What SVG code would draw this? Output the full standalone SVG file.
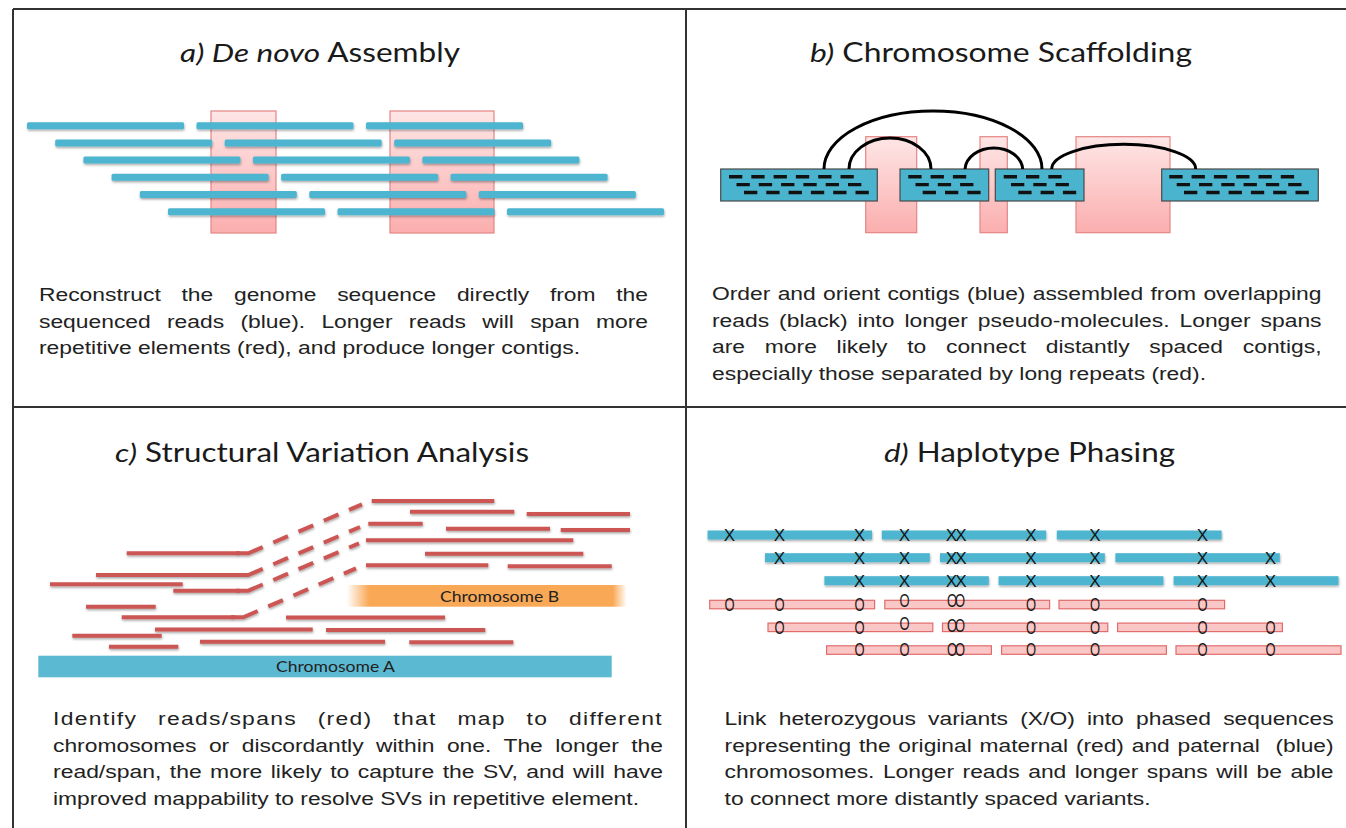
<svg xmlns="http://www.w3.org/2000/svg" width="1346" height="828" viewBox="0 0 1346 828">
<defs>
<style>
.title{font-family:Lato,"Open Sans",sans-serif;font-size:26px;fill:#1a1a1a}
.it{font-style:italic}
.body{font-family:"Liberation Sans",Arial,sans-serif;font-size:17.5px;fill:#222}
.border{stroke:#333;stroke-width:2;fill:none}
.bar{fill:#4db5cf}
.rep{fill:url(#repGrad);stroke:#e58585;stroke-width:1.2}
.contig{fill:#4ab3cd;stroke:#4a4a4a;stroke-width:1.2}
.rd{stroke:#111;stroke-width:3.4;stroke-dasharray:13.3 9}
.arc{fill:none;stroke:#000;stroke-width:3}
.rr{stroke:#cb5753;stroke-width:4}
.dd{stroke:#cb5753;stroke-width:4;fill:none;stroke-dasharray:28 11.5 16 11.5 16 11.5 16 11.5 16 40}
.pb{fill:#4db5cf}
.pp{fill:#fbc6c6;stroke:#e26c6c;stroke-width:1.2}
.mx{font-family:"Liberation Sans",Arial,sans-serif;font-size:17px;fill:#151515;text-anchor:middle}
.mo{font-family:"Liberation Sans",Arial,sans-serif;font-size:18px;fill:#151515;text-anchor:middle}
.chr{font-family:Lato,"Open Sans",sans-serif;font-size:15px;fill:#222}
</style>
<linearGradient id="repGrad" x1="0" y1="0" x2="0" y2="1"><stop offset="0" stop-color="#fee6e6"/><stop offset="1" stop-color="#fbaeae"/></linearGradient>
<linearGradient id="chrBGrad" x1="0" y1="0" x2="1" y2="0"><stop offset="0" stop-color="#f9a856" stop-opacity="0"/><stop offset="0.08" stop-color="#f9a856"/><stop offset="0.95" stop-color="#f9a856"/><stop offset="1" stop-color="#f9a856" stop-opacity="0"/></linearGradient>
<filter id="sh" filterUnits="userSpaceOnUse" x="0" y="0" width="1346" height="828"><feDropShadow dx="0.5" dy="1.5" stdDeviation="1" flood-color="#000" flood-opacity="0.35"/></filter>
<g id="rowA"><rect class="bar" x="0" y="-3.5" width="157" height="7" rx="1.5"/><rect class="bar" x="169.5" y="-3.5" width="157" height="7" rx="1.5"/><rect class="bar" x="339" y="-3.5" width="157" height="7" rx="1.5"/></g>
</defs>
<rect width="1346" height="828" fill="#fff"/>

<g id="borders">
<path class="border" d="M13 9 H1346 M13 9 V828 M686 9 V828 M13 407 H1346"/>
</g>

<!-- Panel a -->
<g id="panel-a">
<text class="title" x="180" y="62" textLength="280" lengthAdjust="spacingAndGlyphs"><tspan class="it">a) De novo</tspan> Assembly</text>
<g id="a-repeats">
<rect class="rep" x="211" y="111" width="65" height="122"/>
<rect class="rep" x="390" y="111" width="104" height="122"/>
</g>
<g id="a-reads" filter="url(#sh)">
<use href="#rowA" transform="translate(27,125.7)"/>
<use href="#rowA" transform="translate(55.2,142.9)"/>
<use href="#rowA" transform="translate(83.4,160.1)"/>
<use href="#rowA" transform="translate(111.6,177.3)"/>
<use href="#rowA" transform="translate(139.8,194.5)"/>
<use href="#rowA" transform="translate(168,211.7)"/>
</g>
<g id="a-text" class="body">
<text x="39" y="301" textLength="609" lengthAdjust="spacingAndGlyphs" word-spacing="11">Reconstruct the genome sequence directly from the</text>
<text x="39" y="327.7" textLength="609" lengthAdjust="spacingAndGlyphs" word-spacing="7.6">sequenced reads (blue). Longer reads will span more</text>
<text x="39" y="354.4" textLength="541" lengthAdjust="spacingAndGlyphs">repetitive elements (red), and produce longer contigs.</text>
</g>
</g>

<!-- Panel b -->
<g id="panel-b">
<text class="title" x="810" y="62" textLength="382" lengthAdjust="spacingAndGlyphs"><tspan class="it">b)</tspan> Chromosome Scaffolding</text>
<g id="b-repeats">
<rect class="rep" x="865.7" y="136.7" width="51" height="96"/>
<rect class="rep" x="980" y="136.7" width="27.3" height="96"/>
<rect class="rep" x="1076" y="136.7" width="94" height="96"/>
</g>
<g id="contig1">
<rect class="contig" x="720.7" y="169" width="156.6" height="32"/>
<line class="rd" x1="729" y1="176.7" x2="853.8" y2="176.7"/>
<line class="rd" x1="736.5" y1="184.6" x2="861.3" y2="184.6"/>
<line class="rd" x1="744" y1="192.5" x2="868.8" y2="192.5"/>
</g>
<g id="contig2">
<rect class="contig" x="900" y="169" width="88.7" height="32"/>
<line class="rd" x1="908.3" y1="176.7" x2="966.2" y2="176.7"/>
<line class="rd" x1="915.5" y1="184.6" x2="973.4" y2="184.6"/>
<line class="rd" x1="922.7" y1="192.5" x2="980.6" y2="192.5"/>
</g>
<g id="contig3">
<rect class="contig" x="995.3" y="169" width="88.7" height="32"/>
<line class="rd" x1="1003.7" y1="176.7" x2="1061.6" y2="176.7"/>
<line class="rd" x1="1011" y1="184.6" x2="1068.9" y2="184.6"/>
<line class="rd" x1="1018.3" y1="192.5" x2="1076.2" y2="192.5"/>
</g>
<g id="contig4">
<rect class="contig" x="1161.7" y="169" width="156.6" height="32"/>
<line class="rd" x1="1169.3" y1="176.7" x2="1294.1" y2="176.7"/>
<line class="rd" x1="1176.7" y1="184.6" x2="1301.5" y2="184.6"/>
<line class="rd" x1="1184" y1="192.5" x2="1308.8" y2="192.5"/>
</g>
<g id="b-text" class="body">
<text x="712" y="300" textLength="609.5" lengthAdjust="spacingAndGlyphs" word-spacing="0.7">Order and orient contigs (blue) assembled from overlapping</text>
<text x="712" y="326.7" textLength="609.5" lengthAdjust="spacingAndGlyphs" word-spacing="2.8">reads (black) into longer pseudo-molecules. Longer spans</text>
<text x="712" y="353.3" textLength="609.5" lengthAdjust="spacingAndGlyphs" word-spacing="10.3">are more likely to connect distantly spaced contigs,</text>
<text x="712" y="380" textLength="494" lengthAdjust="spacingAndGlyphs">especially those separated by long repeats (red).</text>
</g>
</g>

<g id="connectors">
<path class="arc" d="M824 169 A109 58 0 0 1 1042 169"/>
<path class="arc" d="M849 169 A41 31 0 0 1 931 169"/>
<path class="arc" d="M965 169 A28.9 22.3 0 0 1 1022.7 169"/>
<path class="arc" d="M1051.7 169 A72 24.7 0 0 1 1195.7 169"/>
</g>

<!-- Panel c -->
<g id="panel-c">
<text class="title" x="115" y="462" textLength="414" lengthAdjust="spacingAndGlyphs"><tspan class="it">c)</tspan> Structural Variation Analysis</text>
<g id="chromosome-b">
<rect x="346.7" y="585" width="280" height="21.7" fill="url(#chrBGrad)"/>
<text class="chr" x="440" y="601.5" textLength="119" lengthAdjust="spacingAndGlyphs">Chromosome B</text>
</g>
<g id="chromosome-a">
<rect x="38.3" y="655.7" width="573.4" height="21.6" fill="#5cb9d2"/>
<text class="chr" x="276" y="672" textLength="119" lengthAdjust="spacingAndGlyphs">Chromosome A</text>
</g>
<g id="c-reads" filter="url(#sh)">
<line class="rr" x1="371.7" y1="501" x2="494.3" y2="501"/>
<line class="rr" x1="410" y1="511.7" x2="514.3" y2="511.7"/>
<line class="rr" x1="526.7" y1="514" x2="630" y2="514"/>
<line class="rr" x1="368.3" y1="523.7" x2="422.7" y2="523.7"/>
<line class="rr" x1="446" y1="528.7" x2="550" y2="528.7"/>
<line class="rr" x1="560.7" y1="530" x2="630" y2="530"/>
<line class="rr" x1="366" y1="540.3" x2="573.3" y2="540.3"/>
<line class="rr" x1="425" y1="553.7" x2="583.3" y2="553.7"/>
<line class="rr" x1="366" y1="565.3" x2="488.3" y2="565.3"/>
<line class="rr" x1="507.7" y1="566.3" x2="611.7" y2="566.3"/>
<line class="rr" x1="126.7" y1="553.3" x2="240" y2="553.3"/>
<line class="rr" x1="96" y1="575" x2="240" y2="575"/>
<line class="rr" x1="50" y1="584.3" x2="182.7" y2="584.3"/>
<line class="rr" x1="173.3" y1="590.7" x2="240" y2="590.7"/>
<line class="rr" x1="86" y1="606.7" x2="155.7" y2="606.7"/>
<line class="rr" x1="121.7" y1="617.3" x2="235" y2="617.3"/>
<line class="rr" x1="286" y1="617.5" x2="445" y2="617.5"/>
<line class="rr" x1="155" y1="629.5" x2="312.7" y2="629.5"/>
<line class="rr" x1="326" y1="630" x2="485.3" y2="630"/>
<line class="rr" x1="72.3" y1="635.7" x2="161.7" y2="635.7"/>
<line class="rr" x1="200" y1="641.7" x2="385" y2="641.7"/>
<line class="rr" x1="409.3" y1="642.3" x2="513.3" y2="642.3"/>
<line class="rr" x1="109" y1="646.7" x2="178.3" y2="646.7"/>
<path class="dd" d="M236 553.3 L248.3 553.3 L362 504.3"/>
<path class="dd" d="M236 575 L248.3 575 L360 527"/>
<path class="dd" d="M236 590.7 L248.3 590.7 L359 543.3"/>
<path class="dd" d="M231 617.3 L243.3 617.3 L356 568.3"/>
</g>
<g id="c-text" class="body">
<text x="53" y="725" textLength="610" lengthAdjust="spacingAndGlyphs" letter-spacing="1" word-spacing="10">Identify reads/spans (red) that map to different</text>
<text x="53" y="751.5" textLength="610" lengthAdjust="spacingAndGlyphs" word-spacing="4.7">chromosomes or discordantly within one. The longer the</text>
<text x="53" y="778" textLength="610" lengthAdjust="spacingAndGlyphs" word-spacing="1.6">read/span, the more likely to capture the SV, and will have</text>
<text x="53" y="805" textLength="586" lengthAdjust="spacingAndGlyphs">improved mappability to resolve SVs in repetitive element.</text>
</g>
</g>

<!-- Panel d -->
<g id="panel-d">
<text class="title" x="884" y="462" textLength="291" lengthAdjust="spacingAndGlyphs"><tspan class="it">d)</tspan> Haplotype Phasing</text>
<g id="d-paternal" filter="url(#sh)">
<rect class="pb" x="707.6" y="530.5" width="164.4" height="9"/>
<rect class="pb" x="881.8" y="530.5" width="164.4" height="9"/>
<rect class="pb" x="1056.8" y="530.5" width="164.8" height="9"/>
<rect class="pb" x="765" y="553.2" width="164.8" height="9"/>
<rect class="pb" x="940" y="553.2" width="164.8" height="9"/>
<rect class="pb" x="1115.4" y="553.2" width="164.4" height="9"/>
<rect class="pb" x="824.4" y="576.2" width="164.4" height="9"/>
<rect class="pb" x="998.6" y="576.2" width="164.8" height="9"/>
<rect class="pb" x="1173.6" y="576.2" width="164.9" height="9"/>
</g>
<g id="d-maternal">
<rect class="pp" x="709.7" y="600.3" width="164.9" height="8.5"/>
<rect class="pp" x="884.8" y="600.3" width="164.8" height="8.5"/>
<rect class="pp" x="1059" y="600.3" width="165.6" height="8.5"/>
<rect class="pp" x="768" y="623.1" width="164.8" height="8.5"/>
<rect class="pp" x="942.5" y="623.1" width="165.3" height="8.5"/>
<rect class="pp" x="1117.6" y="623.1" width="164.8" height="8.5"/>
<rect class="pp" x="826.6" y="645.8" width="164.8" height="8.5"/>
<rect class="pp" x="1001.6" y="645.8" width="164.8" height="8.5"/>
<rect class="pp" x="1176" y="645.8" width="165" height="8.5"/>
</g>
<g id="d-x-marks" class="mx">
<text x="729.5 779.5 859.5 904.5 951.5 961 1031 1095 1202.5" y="541.1">XXXXXXXXX</text>
<text x="779.5 859.5 904.5 951.5 961 1031 1095 1202.5 1270.5" y="563.8">XXXXXXXXX</text>
<text x="859.5 904.5 951.5 961 1031 1095 1202.5 1270.5" y="586.8">XXXXXXXX</text>
</g>
<g id="d-o-marks" class="mo" transform="scale(0.72,1)">
<text x="1013.2 1082.6 1193.75 1256.25 1322.2 1333.3 1431.9 1520.8 1670.1" y="611 611 611 607.3 607.3 607.3 611 611 611">OOOOOOOOO</text>
<text x="1082.6 1193.75 1256.25 1322.2 1333.3 1431.9 1520.8 1670.1 1764.6" y="633.8 633.8 629.8 631.8 631.8 633.8 633.8 633.8 633.8">OOOOOOOOO</text>
<text x="1193.75 1256.25 1322.2 1333.3 1431.9 1520.8 1670.1 1764.6" y="656.5">OOOOOOOO</text>
</g>
<g id="d-text" class="body">
<text x="724.6" y="725" textLength="609" lengthAdjust="spacingAndGlyphs" word-spacing="4.5">Link heterozygous variants (X/O) into phased sequences</text>
<text x="724.6" y="751.5" textLength="609" lengthAdjust="spacingAndGlyphs" word-spacing="1.15" style="white-space:pre">representing the original maternal (red) and paternal  (blue)</text>
<text x="724.6" y="778" textLength="609" lengthAdjust="spacingAndGlyphs" word-spacing="1.65">chromosomes. Longer reads and longer spans will be able</text>
<text x="724.6" y="805" textLength="426" lengthAdjust="spacingAndGlyphs">to connect more distantly spaced variants.</text>
</g>
</g>
</svg>
